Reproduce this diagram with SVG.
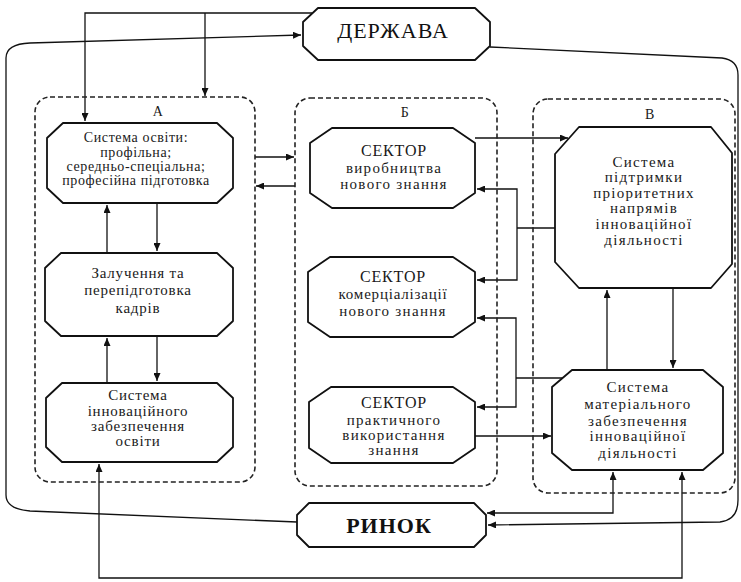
<svg xmlns="http://www.w3.org/2000/svg" width="741" height="582" viewBox="0 0 741 582">
<style>
.bx{fill:#fff;stroke:#111;stroke-width:1.8;stroke-linejoin:round}
.grp{fill:none;stroke:#222;stroke-width:1.6;stroke-dasharray:5 3}
.ln{fill:none;stroke:#111;stroke-width:1.3}
.t{font-family:"Liberation Serif","DejaVu Serif",serif;font-size:15px;fill:#1a1a1a;text-anchor:middle;letter-spacing:0.8px}
.s{font-size:14px;letter-spacing:0.6px}
.w{letter-spacing:1.3px}
.h{font-size:16px;letter-spacing:0.8px}
.big{font-family:"Liberation Serif","DejaVu Serif",serif;font-size:22px;fill:#111;text-anchor:middle;letter-spacing:1px}
</style>
<defs>
<marker id="ar" markerWidth="8" markerHeight="7" refX="8" refY="3.5" orient="auto-start-reverse" markerUnits="userSpaceOnUse">
<path d="M0,0 L8,3.5 L0,7 z" fill="#111"/>
</marker>
</defs>
<rect width="741" height="582" fill="#fff"/>

<g id="connectors">
<path class="ln" d="M297,522 L30,511 Q6,509 6,495 V58 Q6,44 30,43 L301,35" marker-end="url(#ar)"/>
<path class="ln" d="M490,47 L722,58 Q738,60 738,75 V500 Q738,520 720,522 L488,525" marker-end="url(#ar)"/>
<path class="ln" d="M312,13 H85 V121" marker-end="url(#ar)"/>
<path class="ln" d="M205,13 V96" marker-end="url(#ar)"/>
<path class="ln" d="M255,157 H294" marker-end="url(#ar)"/>
<path class="ln" d="M295,186 H256" marker-end="url(#ar)"/>
<path class="ln" d="M157,203 V251" marker-end="url(#ar)"/>
<path class="ln" d="M107,253 V205" marker-end="url(#ar)"/>
<path class="ln" d="M157,336 V381" marker-end="url(#ar)"/>
<path class="ln" d="M107,383 V338" marker-end="url(#ar)"/>
<path class="ln" d="M682,472 V578 H99 V464" marker-start="url(#ar)" marker-end="url(#ar)"/>
<path class="ln" d="M475,138 H568" marker-end="url(#ar)"/>
<path class="ln" d="M477,189 H517 V280 H477" marker-start="url(#ar)" marker-end="url(#ar)"/>
<path class="ln" d="M517,228 H555"/>
<path class="ln" d="M477,318 H516 V407 H477" marker-start="url(#ar)" marker-end="url(#ar)"/>
<path class="ln" d="M516,378 H563"/>
<path class="ln" d="M475,436 H551" marker-end="url(#ar)"/>
<path class="ln" d="M607,370 V290" marker-end="url(#ar)"/>
<path class="ln" d="M673,288 V368" marker-end="url(#ar)"/>
<path class="ln" d="M613,472 V513 H487" marker-start="url(#ar)" marker-end="url(#ar)"/>
</g>

<g id="group-A">
<rect class="grp" x="35" y="97" width="220" height="385" rx="15"/>
<text class="t s" x="158" y="116">А</text>
</g>
<g id="group-B">
<rect class="grp" x="295" y="98" width="202" height="388" rx="15"/>
<text class="t s" x="405" y="117">Б</text>
</g>
<g id="group-V">
<rect class="grp" x="533" y="99" width="202" height="394" rx="15"/>
<text class="t s" x="650" y="119">В</text>
</g>

<g id="derzhava">
<polygon class="bx" points="318,8 475,8 490,22 490,46 475,60 318,60 303,46 303,22"/>
<text class="big" x="393" y="38">ДЕРЖАВА</text>
</g>
<g id="rynok">
<polygon class="bx" points="309,503 474,503 486,515 486,535 474,547 309,547 297,535 297,515"/>
<text class="big" x="389" y="533" font-weight="bold" font-size="21">РИНОК</text>
</g>

<g id="a1">
<polygon class="bx" points="63,123 217,123 233,138 233,188 217,203 63,203 47,188 47,138"/>
<text class="t s" x="136" y="142">Система освіти:</text>
<text class="t s" x="136" y="157">профільна;</text>
<text class="t s" x="136" y="171">середньо-спеціальна;</text>
<text class="t s" x="136" y="185">професійна підготовка</text>
</g>
<g id="a2">
<polygon class="bx" points="61,253 217,253 233,268 233,321 217,336 61,336 45,321 45,268"/>
<text class="t" x="138" y="278">Залучення та</text>
<text class="t" x="138" y="295">перепідготовка</text>
<text class="t" x="138" y="313">кадрів</text>
</g>
<g id="a3">
<polygon class="bx" points="62,383 217,383 233,398 233,447 217,462 62,462 46,447 46,398"/>
<text class="t" x="138" y="400">Система</text>
<text class="t" x="138" y="416">інноваційного</text>
<text class="t" x="138" y="431">забезпечення</text>
<text class="t" x="138" y="446">освіти</text>
</g>

<g id="b1">
<polygon class="bx" points="332,128 453,128 475,143 475,193 453,208 332,208 310,193 310,143"/>
<text class="t h" x="394" y="156">СЕКТОР</text>
<text class="t w" x="394" y="173">виробництва</text>
<text class="t w" x="394" y="189">нового знання</text>
</g>
<g id="b2">
<polygon class="bx" points="330,257 453,257 475,272 475,322 453,337 330,337 308,322 308,272"/>
<text class="t h" x="393" y="282">СЕКТОР</text>
<text class="t" x="393" y="299">комерціалізації</text>
<text class="t w" x="393" y="316">нового знання</text>
</g>
<g id="b3">
<polygon class="bx" points="331,387 453,387 475,402 475,448 453,463 331,463 309,448 309,402"/>
<text class="t h" x="394" y="408">СЕКТОР</text>
<text class="t w" x="394" y="425">практичного</text>
<text class="t w" x="394" y="440">використання</text>
<text class="t w" x="394" y="455">знання</text>
</g>

<g id="v1">
<polygon class="bx" points="579,127 711,127 732,153 732,264 711,288 579,288 555,262 555,154"/>
<text class="t w" x="644" y="167">Система</text>
<text class="t w" x="644" y="182">підтримки</text>
<text class="t w" x="644" y="198">пріоритетних</text>
<text class="t w" x="644" y="213">напрямів</text>
<text class="t w" x="644" y="229">інноваційної</text>
<text class="t w" x="644" y="245">діяльності</text>
</g>
<g id="v2">
<polygon class="bx" points="572,370 703,370 723,387 723,453 703,470 572,470 552,453 552,387"/>
<text class="t w" x="638" y="392">Система</text>
<text class="t w" x="638" y="409">матеріального</text>
<text class="t w" x="638" y="426">забезпечення</text>
<text class="t w" x="638" y="441">інноваційної</text>
<text class="t w" x="638" y="458">діяльності</text>
</g>
</svg>
